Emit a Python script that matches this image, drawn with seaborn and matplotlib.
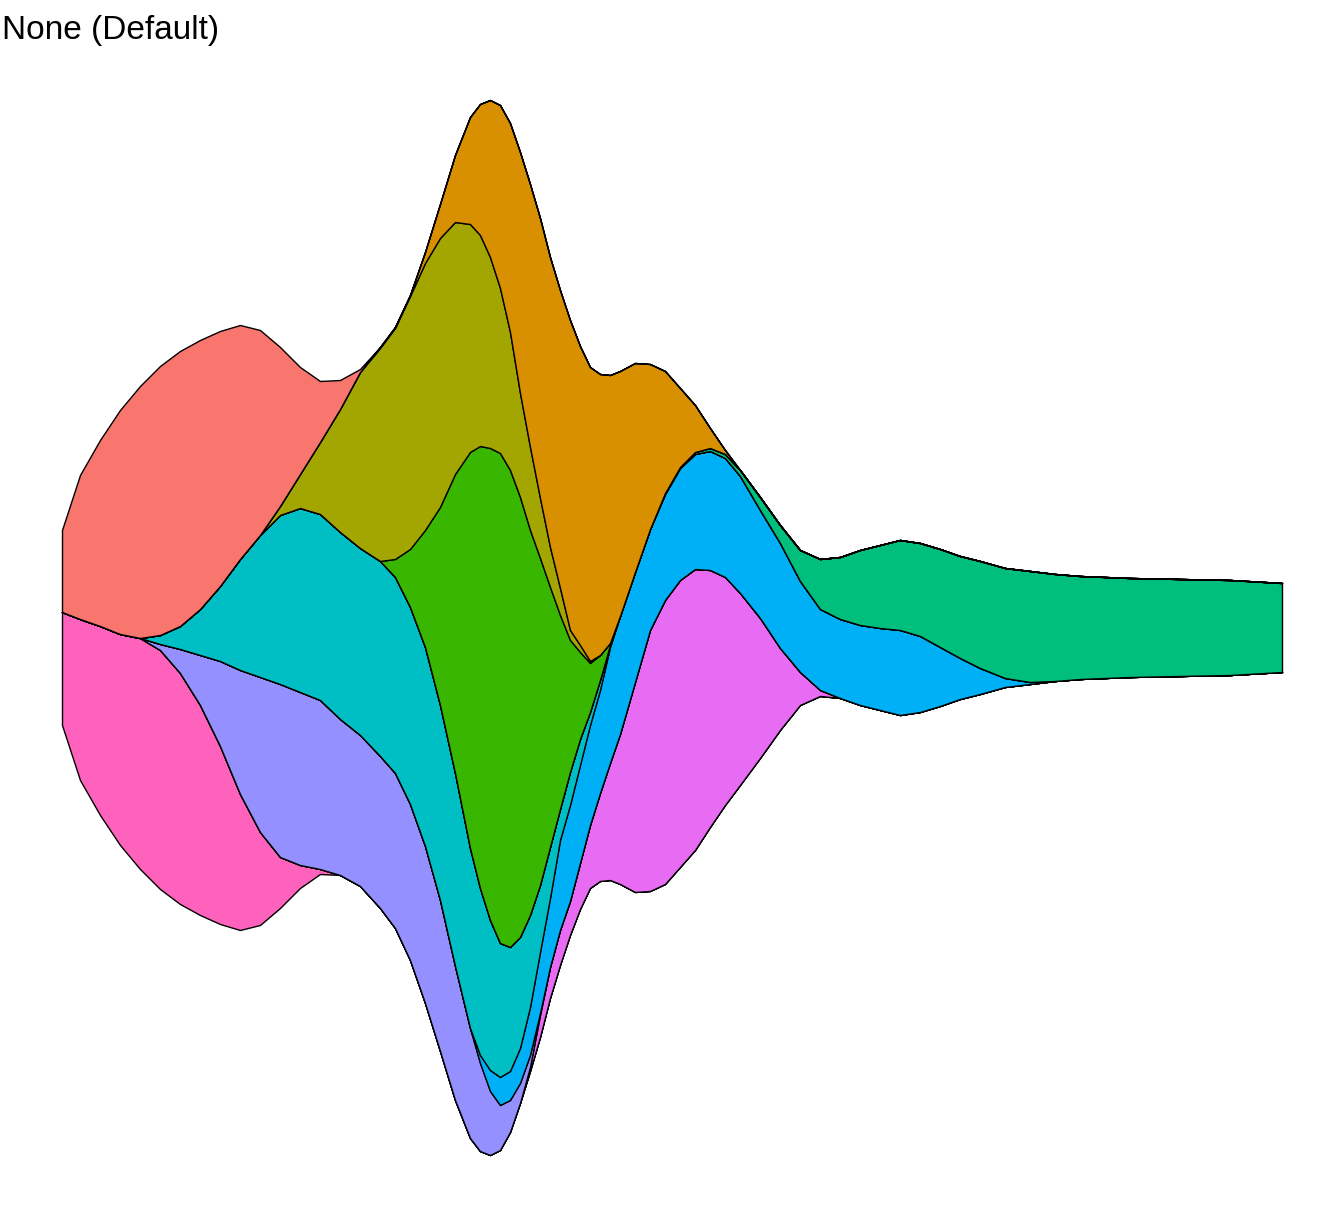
import numpy as np
import pandas as pd
import matplotlib
matplotlib.use("Agg")
import matplotlib.pyplot as plt
import seaborn as sns

# ---------------- data ----------------
title = "None (Default)"
groups = ["A", "B", "C", "D", "E", "F", "G", "H", "I", "J"]
colors = ["#F8766D", "#D89000", "#A3A500", "#39B600", "#00BF7D",
          "#00BFC4", "#00B0F6", "#9590FF", "#E76BF3", "#FF62BC"]

x = [0, 1.8, 3.8, 5.8, 7.8, 9.8, 11.8, 13.8, 15.8, 17.8,
     19.8, 21.8, 23.8, 25.8, 27.8, 29.8, 31.8, 33.3, 34.8, 36.3,
     37.8, 39.3, 40.8, 41.8, 42.8, 43.8, 44.8, 45.8, 46.8, 47.8,
     48.8, 49.8, 50.8, 51.8, 52.8, 53.8, 54.8, 55.8, 57.3, 58.8,
     60.3, 61.8, 63.3, 64.8, 66.3, 67.8, 69.8, 71.8, 73.8, 75.8,
     77.8, 79.8, 81.8, 83.8, 85.8, 87.8, 89.8, 91.8, 94.3, 96.8,
     99.3, 101.8, 106.8, 111.8, 116.8, 122.0]

A = [82, 144, 186, 224, 252, 269, 275, 269, 255, 234,
     205, 159, 107, 61, 29, 3] + [0] * 50
B = [0] * 16 + [1, 1, 1, 11, 34, 67, 107, 131, 157, 183,
                209, 241, 263, 280, 290, 298, 310, 299, 294, 281,
                268, 245, 209, 165, 122, 79, 47, 20, 4] + [0] * 21
C = [0] * 11 + [9, 34, 72, 123, 176, 213, 231, 253, 267, 269,
                252, 228, 211, 191, 165, 138, 104, 83, 60, 40,
                27, 10, 7, 2] + [0] * 31
D = [0] * 17 + [18, 58, 117, 198, 299, 396, 442, 472, 490, 477,
                440, 385, 327, 260, 194, 132, 87, 49, 25, 2] + [0] * 29
E = [0] * 40 + [1, 1, 2, 3, 4, 6, 13, 18, 31, 50,
                62, 75, 83, 90, 93, 98, 102, 107, 110, 111,
                107, 103, 99, 97, 95, 89]
F = [0] * 5 + [9, 23, 46, 75, 111, 142, 169, 184, 186, 187,
               187, 195, 196, 197, 199, 195, 193, 180, 167, 150,
               134, 124, 111, 92, 67, 51, 31, 33, 26, 13,
               10, 2] + [0] * 29
G = [0] * 23 + [8, 21, 28, 29, 35, 48, 61, 69, 90, 96,
                98, 100, 103, 116, 118, 110, 101, 106, 112, 115,
                119, 119, 117, 108, 105, 91, 81, 79, 80, 82,
                85, 76, 59, 41, 26, 9, 2] + [0] * 6
H = [0] * 5 + [6, 24, 50, 85, 124, 155, 173, 173, 169, 156,
               151, 152, 155, 156, 157, 151, 134, 110, 88, 64,
               45, 32, 20, 12, 2] + [0] * 36
I = [0] * 28 + [4, 22, 31, 35, 34, 46, 63, 88, 117, 150,
                210, 261, 284, 287, 281, 257, 228, 192, 140, 82,
                33, 6] + [0] * 16
J = [113, 161, 189, 211, 231, 239, 231, 210, 178, 136,
     93, 51, 23, 5] + [0] * 52

df = pd.DataFrame({"x": x, "A": A, "B": B, "C": C, "D": D, "E": E,
                   "F": F, "G": G, "H": H, "I": I, "J": J})

# ---------------- plot ----------------
sns.set_theme(style="white")
plt.rcParams["font.family"] = ["Liberation Sans", "DejaVu Sans"]
palette = sns.color_palette(colors)

fig = plt.figure(figsize=(13.44, 12.09), dpi=100)
ax = fig.add_axes([0, 0, 1, 1])

# stackplot stacks the first series at the bottom -> reverse so A is on top
order = groups[::-1]
ys = [df[g].to_numpy(dtype=float) for g in order]
cols = [palette[groups.index(g)] for g in order]
ax.stackplot(df["x"], *ys, baseline="sym", colors=cols,
             edgecolor="black", linewidth=1.0)

ax.set_xlim(-6.2, 128.2)
ax.set_ylim(-581.5, 627.5)
ax.set_axis_off()

fig.text(2 / 1344, 1 - 30 / 1209, title, ha="left", va="center",
         fontsize=24, color="black")

fig.savefig("out.png", dpi=100)
